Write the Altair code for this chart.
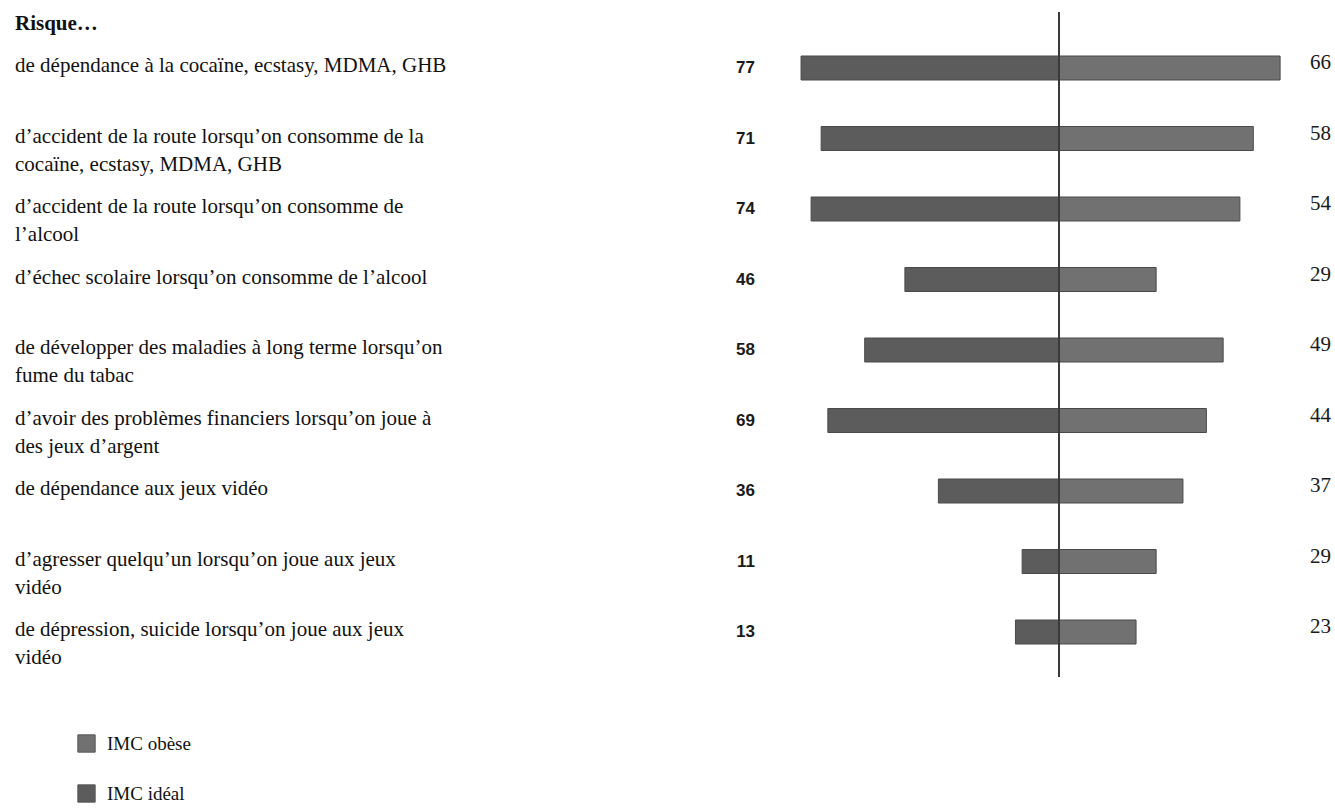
import altair as alt
import pandas as pd

categories = [
    "de dépendance à la cocaïne, ecstasy, MDMA, GHB",
    "d’accident de la route lorsqu’on consomme de la\ncocaïne, ecstasy, MDMA, GHB",
    "d’accident de la route lorsqu’on consomme de\nl’alcool",
    "d’échec scolaire lorsqu’on consomme de l’alcool",
    "de développer des maladies à long terme lorsqu’on\nfume du tabac",
    "d’avoir des problèmes financiers lorsqu’on joue à\ndes jeux d’argent",
    "de dépendance aux jeux vidéo",
    "d’agresser quelqu’un lorsqu’on joue aux jeux\nvidéo",
    "de dépression, suicide lorsqu’on joue aux jeux\nvidéo",
]
ideal = [77, 71, 74, 46, 58, 69, 36, 11, 13]
obese = [66, 58, 54, 29, 49, 44, 37, 29, 23]
series = ["IMC obèse", "IMC idéal"]
colors = ["#717171", "#5c5c5c"]
heading = "Risque…"

rows = []
for c, a, b in zip(categories, ideal, obese):
    rows.append({"cat": c, "series": "IMC idéal", "signed": -a, "val": a})
    rows.append({"cat": c, "series": "IMC obèse", "signed": b, "val": b})
df = pd.DataFrame(rows)

SERIF = "Liberation Serif"
xscale = alt.Scale(domain=[-80, 80], range=[791, 1327], nice=False)
yenc = alt.Y("cat:N", sort=categories, axis=None,
             scale=alt.Scale(type="point", range=[68, 632], padding=0))

base = alt.Chart(df)

bars = base.mark_bar(size=24, stroke="#4a4a4a", strokeWidth=1).encode(
    y=yenc,
    x=alt.X("signed:Q", scale=xscale, axis=None),
    x2=alt.datum(0),
    color=alt.Color(
        "series:N",
        scale=alt.Scale(domain=series, range=colors),
        legend=alt.Legend(
            title=None, orient="none", legendX=77, legendY=734,
            symbolType="square", symbolSize=300, symbolStrokeColor="#555555",
            symbolStrokeWidth=1, symbolOpacity=1,
            labelFont=SERIF, labelFontSize=19, labelColor="#111111",
            labelOffset=11, rowPadding=27, labelLimit=300,
        ),
    ),
)

left_vals = base.transform_filter(alt.datum.series == "IMC idéal").mark_text(
    align="right", baseline="middle", font="Liberation Sans", fontWeight="bold",
    fontSize=17, color="#1a1a1a"
).encode(x=alt.value(755), y=yenc, text="val:Q")

right_vals = base.transform_filter(alt.datum.series == "IMC obèse").mark_text(
    align="right", baseline="middle", font=SERIF, fontSize=21, dy=-5,
    color="#1a1a1a"
).encode(x=alt.value(1331), y=yenc, text="val:Q")

labels = base.transform_filter(alt.datum.series == "IMC idéal").mark_text(
    align="left", baseline="top", lineBreak="\n", font=SERIF, fontSize=21,
    lineHeight=28, dy=-13, color="#111111"
).encode(x=alt.value(15), y=yenc, text="cat:N")

title = alt.Chart(pd.DataFrame({"t": [heading]})).mark_text(
    align="left", baseline="middle", font=SERIF, fontSize=21, fontWeight="bold",
    color="#111111"
).encode(x=alt.value(15), y=alt.value(24), text="t:N")

center = alt.Chart(pd.DataFrame({"z": [0]})).mark_rule(
    color="#3a3a3a", strokeWidth=2
).encode(x=alt.X("z:Q", scale=xscale, axis=None), y=alt.value(12), y2=alt.value(677))

chart = alt.layer(bars, center, left_vals, right_vals, labels, title).properties(
    width=1335, height=808, padding=0, autosize=alt.AutoSizeParams(type="none"),
    background="white",
).configure_view(stroke=None)

chart.save("out.html", embed_options={"renderer": "svg", "actions": False})
